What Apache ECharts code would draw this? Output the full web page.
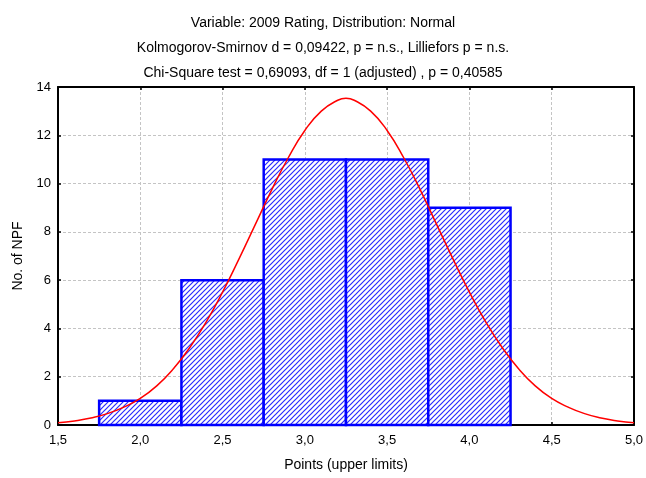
<!DOCTYPE html>
<html>
<head>
<meta charset="utf-8">
<script src="https://cdn.jsdelivr.net/npm/echarts@6/dist/echarts.min.js"></script>
<style>
  html, body { margin: 0; padding: 0; background: #fff; }
  #chart { width: 646px; height: 478px; }
</style>
</head>
<body>
<div id="chart"></div>
<script>
  // histogram bins (class limits) and counts
  var binLow = [1.75, 2.25, 2.75, 3.25, 3.75];
  var binHigh = [2.25, 2.75, 3.25, 3.75, 4.25];
  var counts = [1, 6, 11, 11, 9];

  // fitted normal curve
  var curveX = [1.5, 1.6, 1.7, 1.8, 1.9, 2.0, 2.1, 2.2, 2.3, 2.4, 2.5, 2.6, 2.7, 2.8, 2.9, 3.0, 3.1, 3.2, 3.25,
                3.3, 3.4, 3.5, 3.6, 3.7, 3.8, 3.9, 4.0, 4.1, 4.2, 4.3, 4.4, 4.5, 4.6, 4.7, 4.8, 4.9, 5.0];
  var curveY = [0.09, 0.17, 0.29, 0.47, 0.74, 1.10, 1.62, 2.32, 3.20, 4.26, 5.50, 6.88, 8.32, 9.76, 11.08, 12.20, 13.00, 13.45, 13.53,
                13.45, 13.00, 12.20, 11.08, 9.76, 8.32, 6.88, 5.50, 4.26, 3.20, 2.32, 1.62, 1.10, 0.74, 0.47, 0.29, 0.17, 0.09];

  var titleLines = [
    'Variable: 2009 Rating, Distribution: Normal',
    'Kolmogorov-Smirnov d = 0,09422, p = n.s., Lilliefors p = n.s.',
    'Chi-Square test = 0,69093, df = 1 (adjusted) , p = 0,40585'
  ];

  // diagonal hatch like the original
  var hatch = document.createElement('canvas');
  hatch.width = 5;
  hatch.height = 5;
  var ctx = hatch.getContext('2d');
  ctx.fillStyle = '#ffffff';
  ctx.fillRect(0, 0, 5, 5);
  ctx.strokeStyle = '#2a2aff';
  ctx.lineWidth = 1.2;
  ctx.beginPath();
  ctx.moveTo(-1, 6); ctx.lineTo(6, -1);
  ctx.moveTo(-1, 1); ctx.lineTo(1, -1);
  ctx.moveTo(4, 6); ctx.lineTo(6, 4);
  ctx.stroke();

  var barData = [];
  for (var i = 0; i < counts.length; i++) {
    barData.push([binLow[i], binHigh[i], counts[i]]);
  }
  var lineData = [];
  for (var j = 0; j < curveX.length; j++) {
    lineData.push([curveX[j], curveY[j]]);
  }

  var fmt = function (v) { return v.toFixed(1).replace('.', ','); };
  var font = 'Liberation Sans, Arial, sans-serif';
  var gridLine = { show: true, lineStyle: { color: '#c4c4c4', type: [3, 2], width: 1 } };
  var frame = { show: true, onZero: false, lineStyle: { color: '#000', width: 2 } };
  var tickIn = { show: true, inside: true, length: 3, lineStyle: { color: '#000', width: 1.5 } };

  var chart = echarts.init(document.getElementById('chart'));
  chart.setOption({
    animation: false,
    backgroundColor: '#fff',
    title: {
      text: titleLines.join('\n'),
      left: 'center',
      top: 6,
      textStyle: { fontFamily: font, fontSize: 14, fontWeight: 'normal', color: '#000', lineHeight: 25 }
    },
    grid: { left: 58, right: 12, top: 87, bottom: 53 },
    xAxis: [{
      type: 'value', min: 1.5, max: 5.0, interval: 0.5,
      name: 'Points (upper limits)', nameLocation: 'middle', nameGap: 33,
      nameTextStyle: { fontFamily: font, fontSize: 14, color: '#000' },
      axisLine: frame, axisTick: tickIn, splitLine: gridLine,
      axisLabel: { formatter: fmt, fontFamily: font, fontSize: 13, color: '#000', margin: 9 }
    }, {
      type: 'value', position: 'top', min: 1.5, max: 5.0, interval: 0.5,
      axisLine: frame, axisTick: tickIn, splitLine: { show: false }, axisLabel: { show: false }
    }],
    yAxis: [{
      type: 'value', min: 0, max: 14, interval: 2,
      name: 'No. of NPF', nameLocation: 'middle', nameGap: 32,
      nameTextStyle: { fontFamily: font, fontSize: 14, color: '#000' },
      axisLine: frame, axisTick: tickIn, splitLine: gridLine,
      axisLabel: { fontFamily: font, fontSize: 13, color: '#000', margin: 7 }
    }, {
      type: 'value', position: 'right', min: 0, max: 14, interval: 2,
      axisLine: frame, axisTick: tickIn, splitLine: { show: false }, axisLabel: { show: false }
    }],
    series: [{
      type: 'custom',
      data: barData,
      encode: { x: [0, 1], y: 2 },
      renderItem: function (params, api) {
        var p1 = api.coord([api.value(0), api.value(2)]);
        var p2 = api.coord([api.value(1), 0]);
        return {
          type: 'rect',
          shape: { x: p1[0], y: p1[1], width: p2[0] - p1[0], height: p2[1] - p1[1] },
          style: { fill: { image: hatch, repeat: 'repeat' }, stroke: '#0000ff', lineWidth: 2.5 }
        };
      },
      z: 2
    }, {
      type: 'line',
      data: lineData,
      smooth: true,
      symbol: 'none',
      lineStyle: { color: '#ff0000', width: 1.5 },
      z: 3
    }]
  });
</script>
</body>
</html>
